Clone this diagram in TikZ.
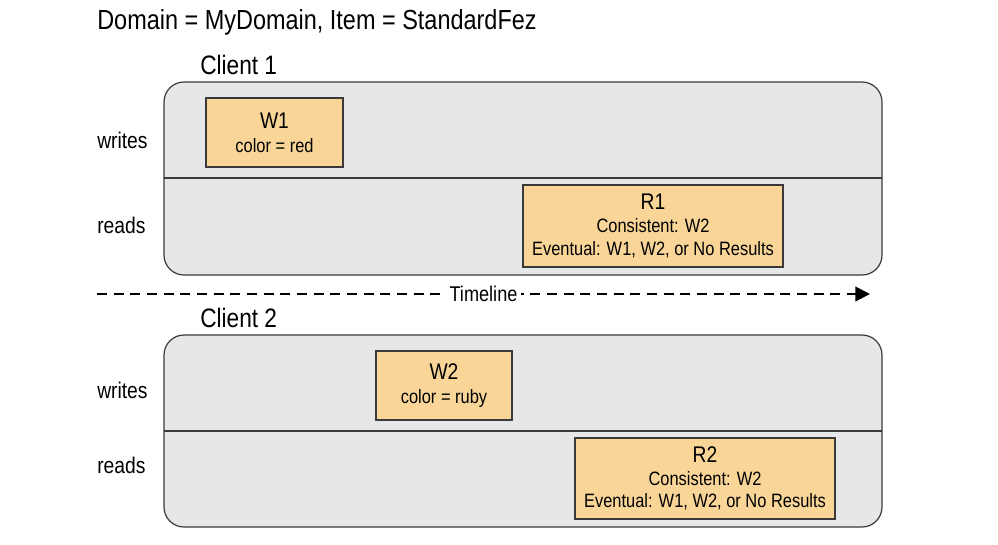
\documentclass[tikz,border=0pt]{standalone}
\usepackage{fontspec}
\setmainfont{Liberation Sans}[FakeStretch=0.85]
\usetikzlibrary{positioning,arrows.meta}
\definecolor{cliGris}{HTML}{E6E7E8}
\definecolor{cliBorde}{HTML}{3A3A3A}
\definecolor{opNaranja}{HTML}{F9D598}
\newcommand{\subtxt}{\fontsize{14.5}{15.5}\selectfont}

\begin{document}
\begin{tikzpicture}[x=0.75pt, y=-0.75pt, font=\fontsize{17}{17}\selectfont,
    every node/.style={align=center, inner sep=0pt},
    lane/.style={fill=cliGris, draw=cliBorde, line width=0.9pt, rounded corners=15pt},
    opbox/.style={fill=opNaranja, draw=cliBorde, line width=0.8pt}]
  \useasboundingbox (0,0) rectangle (998,544);
  \node[anchor=west, font=\fontsize{20.7}{22}\selectfont] (titulo) at (97,22) {Domain = MyDomain, Item = StandardFez};

  % client 1
  \node[anchor=west, font=\fontsize{20}{22}\selectfont] (cli1) at (200,65) {Client 1};
  \draw[lane] (164,82) rectangle (882,275);
  \draw[cliBorde, line width=0.9pt] (164,178) -- (882,178);
  \node[anchor=west] (wr1) at (97,140) {writes};
  \node[anchor=west] (rd1) at (97,225) {reads};
  \node[opbox, minimum width=102.75pt, minimum height=51.75pt] (w1) at (274.5,132.5) {W1\\[1pt]\subtxt color = red};
  \node[opbox, minimum width=195pt, minimum height=61.5pt] (r1) at (653,226) {R1\\[0pt]\subtxt Consistent: W2\\\subtxt Eventual: W1, W2, or No Results};

  % timeline
  \coordinate (tlA) at (97,294);
  \coordinate (tlB) at (870,294);
  \draw[dashed, dash pattern=on 7.5pt off 5pt, line width=1.5pt, -{Triangle[length=11pt,width=11pt]}] (tlA) -- (tlB)
    node[midway, fill=white, inner xsep=3pt, inner ysep=1pt, font=\fontsize{16}{17}\selectfont] (tl) {Timeline};

  % client 2
  \node[anchor=west, font=\fontsize{20}{22}\selectfont] (cli2) at (200,318) {Client 2};
  \draw[lane] (164,335) rectangle (882,527);
  \draw[cliBorde, line width=0.9pt] (164,431) -- (882,431);
  \node[anchor=west] (wr2) at (97,390) {writes};
  \node[anchor=west] (rd2) at (97,465) {reads};
  \node[opbox, minimum width=102pt, minimum height=51.75pt] (w2) at (444,385.5) {W2\\[1pt]\subtxt color = ruby};
  \node[opbox, minimum width=195pt, minimum height=60.75pt] (r2) at (705,478.5) {R2\\[0pt]\subtxt Consistent: W2\\\subtxt Eventual: W1, W2, or No Results};
\end{tikzpicture}
\end{document}
